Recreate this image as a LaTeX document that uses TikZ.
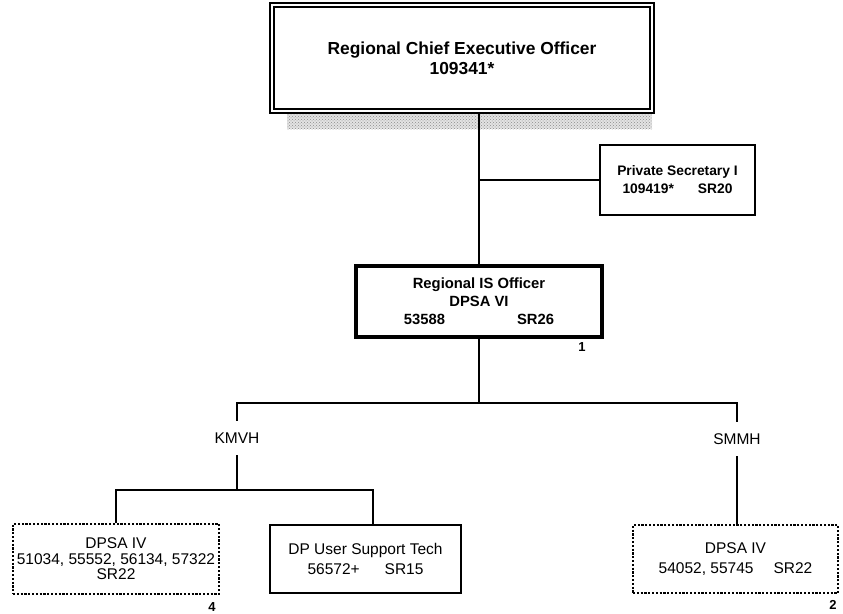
\documentclass[tikz,border=0pt]{standalone}
\usepackage{fontspec}
\setmainfont{Liberation Sans}
\usepackage{tikz}
\usetikzlibrary{patterns}

\begin{document}
\begin{tikzpicture}[
    x=1pt, y=-1pt,
    chief/.style={draw, rectangle, fill=white, line width=1.6pt, double=white, double distance=2.4pt, minimum width=380pt, minimum height=106pt, inner sep=0pt, align=center, font=\bfseries\fontsize{17.4}{20}\selectfont},
    head/.style={draw, rectangle, fill=white, line width=3.2pt, minimum width=246pt, minimum height=71pt, inner sep=0pt, align=center, font=\bfseries\fontsize{14.8}{18}\selectfont},
    plain/.style={draw, rectangle, fill=white, line width=1.4pt, inner sep=0pt, align=center, font=\fontsize{15.5}{19.5}\selectfont},
    unit/.style={draw, rectangle, fill=white, line width=1.4pt, dash pattern=on 2.2pt off 1.6pt, inner sep=0pt, align=center, font=\fontsize{15.5}{15.5}\selectfont},
    site/.style={inner sep=0pt, minimum height=34pt, font=\fontsize{15.5}{17}\selectfont},
    tag/.style={inner sep=0pt, font=\bfseries\fontsize{13}{15}\selectfont},
    link/.style={line width=1.4pt}
]
\useasboundingbox (0,0) rectangle (843,613);

% shadow under the top box
\fill[gray!22] (287,111) rectangle (652,129);
\fill[pattern=crosshatch dots, pattern color=gray!90] (287,111) rectangle (652,129);

% Nodes Row 1
\node (ceo) [chief] at (462,58) {Regional Chief Executive Officer\\109341*};
\node (ps) [plain, minimum width=155pt, minimum height=70pt, font=\bfseries\fontsize{13.8}{18}\selectfont] at (677.5,180) {Private Secretary I\\109419*\hspace{24pt}SR20};

% Nodes Row 2
\node (iso) [head] at (479,301.5) {Regional IS Officer\\DPSA VI\\53588\hspace{72pt}SR26};
\node (tagone) [tag] at (582,347) {1};

% Nodes Row 3
\node (kmvh) [site] at (237,438) {KMVH};
\node (smmh) [site] at (737,439) {SMMH};

% Nodes Row 4
\node (dpsal) [unit, minimum width=206pt, minimum height=70pt] at (116,559) {DPSA IV\\51034, 55552, 56134, 57322\\SR22};
\node (dpust) [plain, minimum width=191pt, minimum height=68pt] at (365.5,559) {DP User Support Tech\\56572+\hspace{25pt}SR15};
\node (dpsar) [unit, minimum width=205pt, minimum height=68pt, font=\fontsize{15.5}{19.5}\selectfont] at (735.5,559) {DPSA IV\\54052, 55745\hspace{20pt}SR22};
\node (tagfour) [tag] at (212,607) {4};
\node (tagtwo) [tag] at (833,605) {2};

% Paths
\coordinate (split) at (479,403);
\coordinate (ksplit) at (237,490);
\draw [link] (ceo.south -| iso.north) -- (iso.north);
\draw [link] (ps.west) -- (ps.west -| iso.north);
\draw [link] (iso.south) -- (split);
\draw [link] (kmvh.north) -- (kmvh.north |- split) -- (smmh.north |- split) -- (smmh.north);
\draw [link] (kmvh.south) -- (ksplit);
\draw [link] (dpsal.north) -- (dpsal.north |- ksplit) -| ([xshift=7.5pt]dpust.north);
\draw [link] (smmh.south) -- (dpsar.north -| smmh.south);

\end{tikzpicture}
\end{document}
